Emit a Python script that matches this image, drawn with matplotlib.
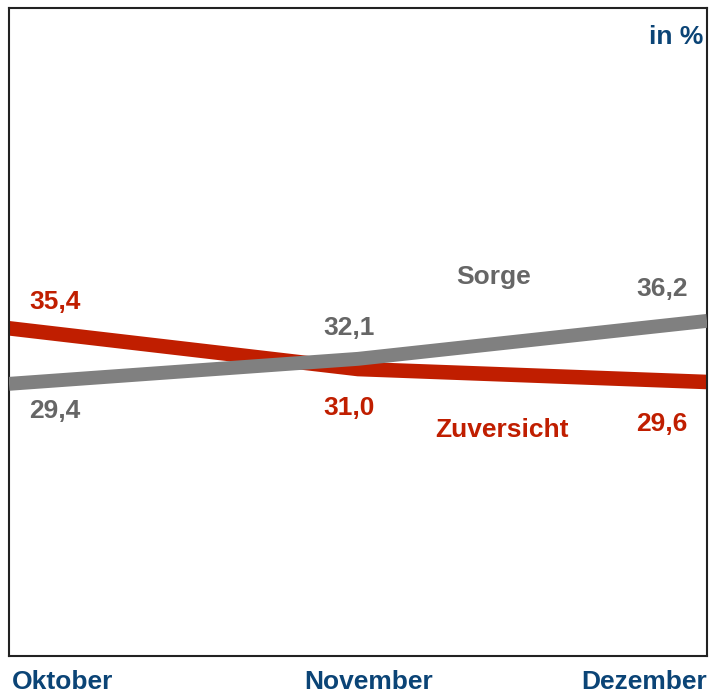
import numpy as np
import matplotlib
matplotlib.use("Agg")
import matplotlib.pyplot as plt

months = ["Oktober", "November", "Dezember"]
zuversicht = [35.4, 31.0, 29.6]
sorge = [29.4, 32.1, 36.2]

red = "#C01E00"
grey_line = "#808080"
grey_text = "#666666"
navy = "#0B4476"

plt.rcParams['font.family'] = ['Liberation Sans', 'DejaVu Sans']

fig = plt.figure(figsize=(7.09, 6.98), dpi=100)
ax = fig.add_axes([9/709, 1 - 656/698, 698/709, 648/698])

x = np.arange(len(months))
ax.plot(x, zuversicht, color=red, lw=10.5, solid_capstyle='butt', zorder=2)
ax.plot(x, sorge, color=grey_line, lw=10, solid_capstyle='butt', zorder=3)
ax.set_xlim(0, 2)
ax.set_ylim(0, 70)
ax.set_xticks([])
ax.set_yticks([])
for s in ax.spines.values():
    s.set_linewidth(1.5)
    s.set_color("#222222")

def fmt(v):
    return "{:.1f}".format(v).replace(".", ",")

fs = 19
# label offsets in pixels (dx, dy) per month
off_z = [(46, 26), (-9, -39), (-45, -42)]
off_s = [(46, -27), (-9, 31), (-45, 32)]
for i in range(len(months)):
    ax.annotate(fmt(zuversicht[i]), (x[i], zuversicht[i]), xytext=off_z[i],
                textcoords='offset pixels', ha='center', va='center',
                color=red, fontsize=fs, fontweight='bold')
    ax.annotate(fmt(sorge[i]), (x[i], sorge[i]), xytext=off_s[i],
                textcoords='offset pixels', ha='center', va='center',
                color=grey_text, fontsize=fs, fontweight='bold')

fig.text(494/709, 1 - 277/698, "Sorge", color=grey_text, fontsize=fs,
         fontweight='bold', ha='center', va='center')
fig.text(502/709, 1 - 430/698, "Zuversicht", color=red, fontsize=fs,
         fontweight='bold', ha='center', va='center')
fig.text(703/709, 1 - 37/698, "in %", color=navy, fontsize=fs,
         fontweight='bold', ha='right', va='center')

# month labels under the frame
fig.text(12/709, 1 - 682/698, months[0], color=navy, fontsize=fs,
         fontweight='bold', ha='left', va='center')
fig.text(369/709, 1 - 682/698, months[1], color=navy, fontsize=fs,
         fontweight='bold', ha='center', va='center')
fig.text(707/709, 1 - 682/698, months[2], color=navy, fontsize=fs,
         fontweight='bold', ha='right', va='center')

fig.savefig("out.png", dpi=100)
